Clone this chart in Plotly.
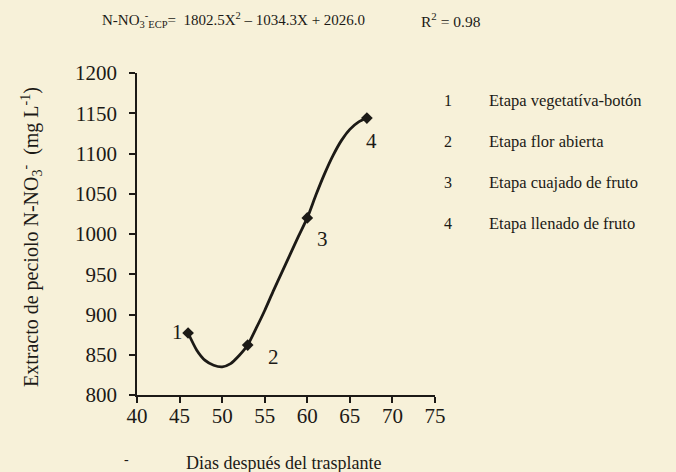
import plotly.graph_objects as go

# Observed stage points (days after transplant, petiole N-NO3 in mg/L)
stage_days = [46, 53, 60, 67]
stage_values = [877, 862, 1020, 1144]
stage_labels = ["1", "2", "3", "4"]
stage_names = ["Etapa vegetatíva-botón", "Etapa flor abierta",
               "Etapa cuajado de fruto", "Etapa llenado de fruto"]

# Fitted curve
curve_days = [46, 47, 48, 49, 50, 51, 52, 53, 54, 55, 56, 57, 58, 59, 60,
              61, 62, 63, 64, 65, 66, 67]
curve_values = [877, 856, 843, 837, 835, 839, 849, 862, 883, 905, 929, 952,
                975, 998, 1020, 1048, 1074, 1097, 1116, 1130, 1139, 1144]

x_ticks = [40, 45, 50, 55, 60, 65, 70, 75]
y_ticks = [800, 850, 900, 950, 1000, 1050, 1100, 1150, 1200]

FONT = "Liberation Serif"
INK = "#1c1a16"
BG = "#f7f1d9"

fig = go.Figure()
fig.add_trace(go.Scatter(x=curve_days, y=curve_values, mode="lines",
                         line=dict(color=INK, width=2.8, shape="spline", smoothing=0.6),
                         hoverinfo="skip"))
fig.add_trace(go.Scatter(x=stage_days, y=stage_values, mode="markers",
                         marker=dict(symbol="diamond", size=9, color=INK)))

# point labels next to markers
shifts = [(-11, 1), (26, -12), (15, -21), (5, -23)]
for d, v, lab, (dx, dy) in zip(stage_days, stage_values, stage_labels, shifts):
    fig.add_annotation(x=d, y=v, text=lab, showarrow=False, xshift=dx, yshift=dy,
                       font=dict(family=FONT, size=21, color=INK))

# legend-like list on the right
for i, (lab, name) in enumerate(zip(stage_labels, stage_names)):
    yp = 0.916 - i * 0.128
    fig.add_annotation(xref="paper", yref="paper", x=1.042, y=yp, text=lab, showarrow=False,
                       xanchor="center", yanchor="middle", font=dict(family=FONT, size=16, color=INK))
    fig.add_annotation(xref="paper", yref="paper", x=1.176, y=yp, text=name, showarrow=False,
                       xanchor="left", yanchor="middle", font=dict(family=FONT, size=16.5, color=INK))

# equation and R2
fig.add_annotation(xref="paper", yref="paper", x=-0.124, y=1.165, xanchor="left", yanchor="middle",
                   showarrow=False,
                   text="N-NO<sub>3</sub><sup>-</sup><sub>ECP</sub>=  1802.5X<sup>2</sup> – 1034.3X + 2026.0",
                   font=dict(family=FONT, size=15, color=INK))
fig.add_annotation(xref="paper", yref="paper", x=0.945, y=1.165, xanchor="left", yanchor="middle",
                   showarrow=False, text="R<sup>2</sup> = 0.98",
                   font=dict(family=FONT, size=15.5, color=INK))

# axis titles
fig.add_annotation(xref="paper", yref="paper", x=-0.353, y=0.49, textangle=-90, showarrow=False,
                   xanchor="center", yanchor="middle",
                   text="Extracto de peciolo N-NO<sub>3</sub><sup>-</sup>  (mg L<sup>-1</sup>)",
                   font=dict(family=FONT, size=20, color=INK))
fig.add_annotation(xref="paper", yref="paper", x=0.49, y=-0.211, showarrow=False,
                   xanchor="center", yanchor="middle",
                   text="Dias después del trasplante", font=dict(family=FONT, size=18, color=INK))
fig.add_annotation(xref="paper", yref="paper", x=-0.034, y=-0.2, showarrow=False,
                   xanchor="center", yanchor="middle",
                   text="-", font=dict(family=FONT, size=14, color=INK))

fig.update_xaxes(range=[40, 75], tickvals=x_ticks, showline=True, linecolor=INK, linewidth=1.8,
                 ticks="outside", ticklen=6, tickwidth=1.5, tickcolor=INK, showgrid=False,
                 zeroline=False, ticklabelstandoff=-5, tickfont=dict(family=FONT, size=21, color=INK))
fig.update_yaxes(range=[800, 1200], tickvals=y_ticks, showline=True, linecolor=INK, linewidth=1.8,
                 ticks="outside", ticklen=6, tickwidth=1.5, tickcolor=INK, showgrid=False,
                 zeroline=False, ticklabelstandoff=8, tickfont=dict(family=FONT, size=21, color=INK))
fig.update_layout(width=676, height=472, margin=dict(l=137, r=241, t=73, b=77),
                  paper_bgcolor=BG, plot_bgcolor=BG, showlegend=False)
fig.write_html("out.html", config={"displayModeBar": False},
               post_script="document.body.style.margin='0';document.body.style.background='%s';" % BG)
